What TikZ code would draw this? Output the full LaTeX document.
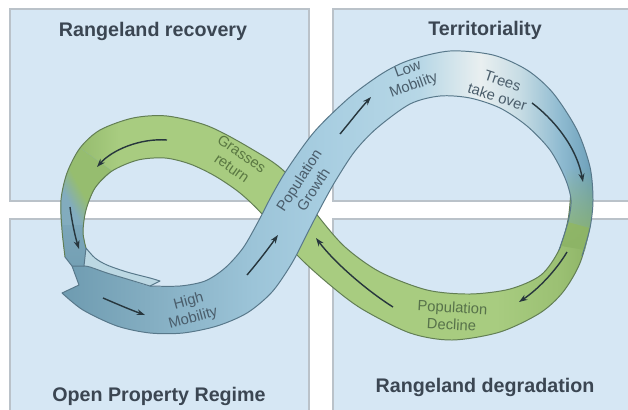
\documentclass[tikz,border=0pt]{standalone}
\usepackage{fontspec}
\setmainfont{Liberation Sans}
\usepackage{tikz}
\usetikzlibrary{arrows.meta,fadings}
\definecolor{quadfill}{RGB}{214,231,244}
\definecolor{quadline}{RGB}{186,194,201}
\definecolor{titlegray}{RGB}{59,70,82}
\definecolor{lblblue}{RGB}{74,93,107}
\definecolor{lblgreen}{RGB}{90,120,66}
\definecolor{arrowdark}{RGB}{39,54,61}
\definecolor{bedge}{RGB}{88,120,138}
\definecolor{gedge}{RGB}{98,126,84}
\definecolor{tealdark}{RGB}{110,155,176}
\definecolor{bluemid}{RGB}{131,173,193}
\definecolor{bluegrow}{RGB}{156,196,216}
\definecolor{bluelight}{RGB}{168,206,225}
\definecolor{bluepale}{RGB}{183,215,230}
\definecolor{whiteish}{RGB}{233,239,240}
\definecolor{paleteal}{RGB}{200,221,229}
\definecolor{tealmid}{RGB}{142,186,208}
\definecolor{tealright}{RGB}{108,159,185}
\definecolor{slatetop}{RGB}{136,177,195}
\definecolor{slatelow}{RGB}{116,160,180}
\definecolor{slatemix}{RGB}{130,172,190}
\definecolor{flapblue}{RGB}{188,216,227}
\definecolor{greenband}{RGB}{168,204,128}
\definecolor{greenmid}{RGB}{155,192,115}
\definecolor{greendark}{RGB}{141,180,102}
\definecolor{greenmix}{RGB}{150,189,111}
\pgfdeclarehorizontalshading{blueband}{100bp}{color(0bp)=(tealdark); color(25bp)=(tealdark);
  color(33bp)=(bluemid); color(43bp)=(bluegrow); color(50bp)=(bluelight); color(58.7bp)=(bluepale);
  color(64.4bp)=(whiteish); color(68bp)=(paleteal); color(72bp)=(tealmid); color(75bp)=(tealright);
  color(100bp)=(tealright)}
\pgfdeclarehorizontalshading{greenloop}{100bp}{color(0bp)=(greendark); color(25bp)=(greendark);
  color(30.5bp)=(greenband); color(66bp)=(greenband); color(72bp)=(greenmid); color(75bp)=(greendark);
  color(100bp)=(greendark)}
\pgfdeclarehorizontalshading{leftmix}{100bp}{color(0bp)=(slatemix); color(46.5bp)=(slatemix);
  color(53.5bp)=(greenmix); color(100bp)=(greenmix)}
\tikzfading[name=fadeup,top color=transparent!100,middle color=transparent!100,bottom color=transparent!0]

\begin{document}
\begin{tikzpicture}[x=0.025cm,y=-0.025cm,
    quad/.style={draw=quadline,fill=quadfill,line width=1pt},
    title/.style={anchor=base,text=titlegray,font=\fontsize{14}{16}\selectfont\bfseries},
    lbl/.style={align=center,inner sep=0pt,text=lblblue,font=\fontsize{10.5}{12.2}\selectfont},
    flow/.style={draw=arrowdark,line width=1pt,-{Stealth[length=6pt,width=4.2pt]}},
    gline/.style={draw=gedge,line width=0.7pt},
    bline/.style={draw=bedge,line width=0.7pt,line join=round},
    flap/.style={fill=flapblue,draw=bedge,line width=0.7pt,line join=round}
]
\useasboundingbox (0,0) rectangle (628,409);
\fill[white] (0,0) rectangle (628,409);

\draw[quad] (10,9) rectangle (309,201);
\draw[quad] (333,9) rectangle (640,201);
\draw[quad] (10,219) rectangle (309,420);
\draw[quad] (333,219) rectangle (640,420);

\node[title] (recovery) at (153,36) {Rangeland recovery};
\node[title] (territory) at (485,35) {Territoriality};
\node[title] (openreg) at (159,401) {Open Property Regime};
\node[title] (degrad) at (485,392) {Rangeland degradation};

% green half of the loop, runs under the blue half
\shade[shading=greenloop] plot[smooth] coordinates {(591,190) (590,225) (580,263) (563,292) (540,313) (500,332) (452,340) (410,333) (362,309) (330,285) (297,255) (263,215) (240,193) (215,176) (190,164) (165,158) (138,160) (112,171) (95,188) (86,210) (83,232) (86,248)}
  -- plot[smooth] coordinates {(65,257) (62,230) (61,200) (67,173) (80,148) (100,130) (133,118) (167,116) (208,126) (250,148) (285,172) (318,216) (345,247) (380,272) (427,290) (470,294) (510,289) (541,275) (559,250) (568,220) (571,190)} -- cycle;
\shade[top color=slatetop,bottom color=slatelow] plot[smooth] coordinates {(80,148) (67,173) (61,200) (62,230) (65,257)} -- (72,266) -- (84,266)
  -- plot[smooth] coordinates {(86,248) (83,232) (86,210) (95,188) (112,171)} -- cycle;
\begin{scope}
  \clip plot[smooth] coordinates {(80,148) (67,173) (61,200) (61,225)} -- (83,225)
    -- plot[smooth] coordinates {(86,210) (95,188) (112,171)} -- cycle;
  \shade[shading=leftmix,transform canvas={rotate around={28.4:(75,196)}}] (15,96) rectangle (135,296);
\end{scope}
\draw[gline] plot[smooth] coordinates {(591,190) (590,225) (580,263) (563,292) (540,313) (500,332) (452,340) (410,333) (362,309) (330,285) (297,255) (263,215) (240,193) (215,176) (190,164) (165,158) (138,160) (112,171) (95,188) (86,210) (83,232) (86,248)};
\draw[gline] plot[smooth] coordinates {(571,190) (568,220) (559,250) (541,275) (510,289) (470,294) (427,290) (380,272) (345,247) (318,216) (285,172) (250,148) (208,126) (167,116) (133,118) (100,130) (80,148) (67,173) (61,200) (62,230) (65,257)};

% blue half
\shade[shading=blueband] (72,266) -- (79,285)
  -- plot[smooth] coordinates {(62,293) (83,310) (117,326) (150,333) (183,333) (217,326) (247,313) (272,292) (292,263) (308,232) (322,205) (336,180) (355,151) (377,128) (410,104) (440,96) (470,98) (500,108) (527,126) (550,150) (565,178) (571,200) (568,222)}
  -- plot[smooth] coordinates {(590,228) (593,200) (590,167) (577,130) (553,93) (527,70) (493,55) (450,51) (410,60) (383,73) (350,97) (315,131) (288,168) (272,195) (258,222) (243,248) (225,268) (205,281) (180,286) (150,286) (127,279) (107,273) (90,267) (84,266)} -- cycle;
\path[flap] plot[smooth] coordinates {(86,248) (95,258) (107,265) (127,272) (150,278) (160,281)} -- (150,286)
  -- plot[smooth] coordinates {(150,286) (127,279) (107,273) (90,267) (84,266)} -- cycle;
\fill[greendark,path fading=fadeup] plot[smooth] coordinates {(565,170) (571,200) (568,222) (561,246)}
  -- plot[smooth] coordinates {(585,250) (590,228) (593,200) (590,167)} -- cycle;
\draw[bline] (65,257) -- (72,266) -- (84,266);
\draw[bline] (72,266) -- (79,285)
  -- plot[smooth] coordinates {(62,293) (83,310) (117,326) (150,333) (183,333) (217,326) (247,313) (272,292) (292,263) (308,232) (322,205) (336,180) (355,151) (377,128) (410,104) (440,96) (470,98) (500,108) (527,126) (550,150) (565,178) (571,200) (568,222) (559,250)};
\draw[bline] plot[smooth] coordinates {(150,286) (180,286) (205,281) (225,268) (243,248) (258,222) (272,195) (288,168) (315,131) (350,97) (383,73) (410,60) (450,51) (493,55) (527,70) (553,93) (577,130) (590,167) (593,200) (590,228) (582,256)};

\draw[flow] (167,140) .. controls (140,138) and (112,150) .. (97,167);
\draw[flow] (70,207) .. controls (72,222) and (75,236) .. (79,249);
\draw[flow] (103,298) .. controls (117,304) and (131,310) .. (145,315);
\draw[flow] (247,275) .. controls (258,262) and (268,249) .. (278,235);
\draw[flow] (340,134) .. controls (350,122) and (360,109) .. (371,97);
\draw[flow] (532,103) .. controls (552,118) and (576,145) .. (583,182);
\draw[flow] (567,252) .. controls (555,272) and (537,290) .. (519,302);
\draw[flow] (393,307) .. controls (366,290) and (334,262) .. (316,238);

\node[lbl,text=lblgreen,rotate=-35] (grasses) at (237,161) {Grasses\\return};
\node[lbl,rotate=57] (growth) at (306,185) {Population\\Growth};
\node[lbl,rotate=20] (lowmob) at (411,78) {Low\\Mobility};
\node[lbl,rotate=-18] (trees) at (500,89) {Trees\\take over};
\node[lbl,rotate=15] (highmob) at (191,310) {High\\Mobility};
\node[lbl,text=lblgreen!80!lblblue,rotate=-3] (decline) at (452,316) {Population\\Decline};
\end{tikzpicture}
\end{document}
